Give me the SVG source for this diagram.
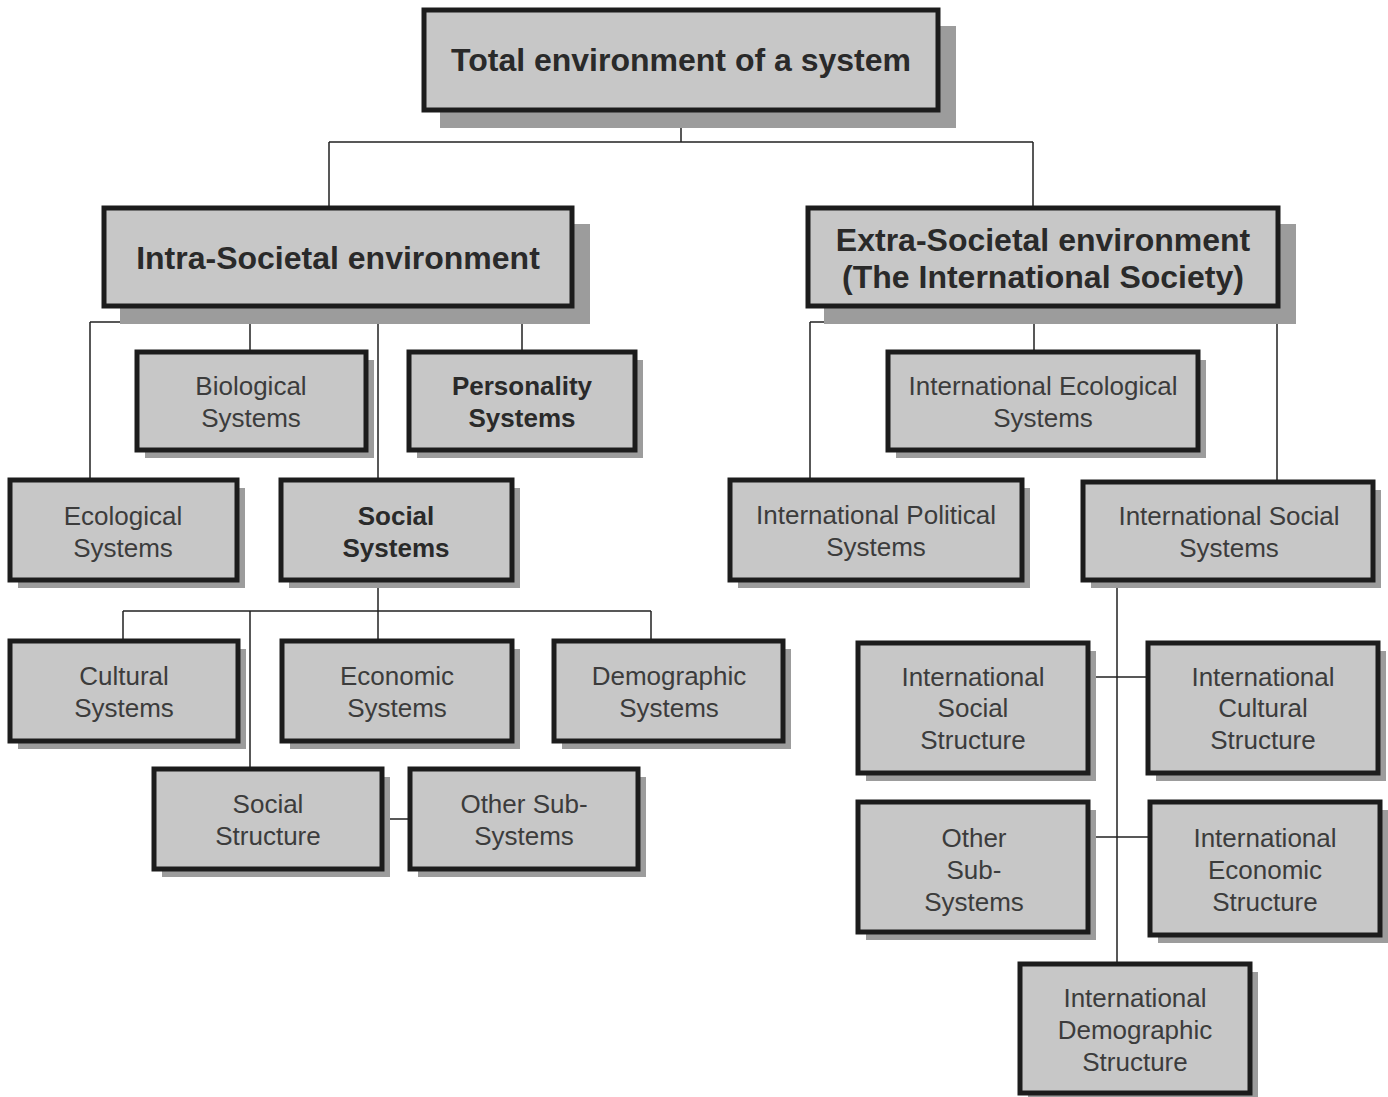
<svg xmlns="http://www.w3.org/2000/svg" width="1388" height="1097" viewBox="0 0 1388 1097">
<style>
.sh{fill:#9c9c9c}
.bx{fill:#c7c7c7;stroke:#1c1c1c;stroke-width:5}
.t{font-family:"Liberation Sans",Arial,sans-serif;font-size:26px;fill:#3c3c3c;text-anchor:middle}
.b{font-weight:bold;fill:#2a2a2a}
.h{font-family:"Liberation Sans",Arial,sans-serif;font-size:32px;font-weight:bold;fill:#2a2a2a;text-anchor:middle}
.c{fill:none;stroke:#222;stroke-width:1.5}
</style>
<rect width="1388" height="1097" fill="#ffffff"/>
<g id="connectors">
<path class="c" d="M681 110V142M329 142H1033M329 142V208M1033 142V208"/>
<path class="c" d="M90 322H522M90 322V480M250 322V352M522 322V352M378 306V480"/>
<path class="c" d="M378 580V611M123 611H651M123 611V641M378 611V641M651 611V641M250 611V769M382 819H410"/>
<path class="c" d="M810 322H1277M810 322V480M1277 322V482M1034 306V352"/>
<path class="c" d="M1117 580V964M1088 677H1148M1088 837H1150"/>
</g>
<g id="n-total"><rect class="sh" x="440" y="26" width="516" height="102"/><rect class="bx" x="424" y="10" width="514" height="100"/><text class="h" x="681" y="71">Total environment of a system</text></g>
<g id="n-intra"><rect class="sh" x="120" y="224" width="470" height="100"/><rect class="bx" x="104" y="208" width="468" height="98"/><text class="h" x="338" y="269">Intra-Societal environment</text></g>
<g id="n-extra"><rect class="sh" x="824" y="224" width="472" height="100"/><rect class="bx" x="808" y="208" width="470" height="98"/><text class="h" x="1043" y="251">Extra-Societal environment</text><text class="h" x="1043" y="288">(The International Society)</text></g>
<g id="n-bio"><rect class="sh" x="145" y="360" width="229" height="98"/><rect class="bx" x="137" y="352" width="229" height="98"/><text class="t" x="251" y="395">Biological</text><text class="t" x="251" y="427">Systems</text></g>
<g id="n-pers"><rect class="sh" x="417" y="360" width="226" height="98"/><rect class="bx" x="409" y="352" width="226" height="98"/><text class="t b" x="522" y="395">Personality</text><text class="t b" x="522" y="427">Systems</text></g>
<g id="n-eco"><rect class="sh" x="18" y="488" width="227" height="100"/><rect class="bx" x="10" y="480" width="227" height="100"/><text class="t" x="123" y="525">Ecological</text><text class="t" x="123" y="557">Systems</text></g>
<g id="n-social"><rect class="sh" x="289" y="488" width="231" height="100"/><rect class="bx" x="281" y="480" width="231" height="100"/><text class="t b" x="396" y="525">Social</text><text class="t b" x="396" y="557">Systems</text></g>
<g id="n-cult"><rect class="sh" x="18" y="649" width="228" height="100"/><rect class="bx" x="10" y="641" width="228" height="100"/><text class="t" x="124" y="685">Cultural</text><text class="t" x="124" y="717">Systems</text></g>
<g id="n-econ"><rect class="sh" x="290" y="649" width="230" height="100"/><rect class="bx" x="282" y="641" width="230" height="100"/><text class="t" x="397" y="685">Economic</text><text class="t" x="397" y="717">Systems</text></g>
<g id="n-demo"><rect class="sh" x="562" y="649" width="229" height="100"/><rect class="bx" x="554" y="641" width="229" height="100"/><text class="t" x="669" y="685">Demographic</text><text class="t" x="669" y="717">Systems</text></g>
<g id="n-sstruct"><rect class="sh" x="162" y="777" width="228" height="100"/><rect class="bx" x="154" y="769" width="228" height="100"/><text class="t" x="268" y="813">Social</text><text class="t" x="268" y="845">Structure</text></g>
<g id="n-other"><rect class="sh" x="418" y="777" width="228" height="100"/><rect class="bx" x="410" y="769" width="228" height="100"/><text class="t" x="524" y="813">Other Sub-</text><text class="t" x="524" y="845">Systems</text></g>
<g id="n-iecol"><rect class="sh" x="896" y="360" width="310" height="98"/><rect class="bx" x="888" y="352" width="310" height="98"/><text class="t" x="1043" y="395">International Ecological</text><text class="t" x="1043" y="427">Systems</text></g>
<g id="n-ipol"><rect class="sh" x="738" y="488" width="292" height="100"/><rect class="bx" x="730" y="480" width="292" height="100"/><text class="t" x="876" y="524">International Political</text><text class="t" x="876" y="556">Systems</text></g>
<g id="n-isoc"><rect class="sh" x="1091" y="490" width="290" height="98"/><rect class="bx" x="1083" y="482" width="290" height="98"/><text class="t" x="1229" y="525">International Social</text><text class="t" x="1229" y="557">Systems</text></g>
<g id="n-isstruct"><rect class="sh" x="866" y="651" width="230" height="130"/><rect class="bx" x="858" y="643" width="230" height="130"/><text class="t" x="973" y="686">International</text><text class="t" x="973" y="717">Social</text><text class="t" x="973" y="749">Structure</text></g>
<g id="n-icult"><rect class="sh" x="1156" y="651" width="230" height="130"/><rect class="bx" x="1148" y="643" width="230" height="130"/><text class="t" x="1263" y="686">International</text><text class="t" x="1263" y="717">Cultural</text><text class="t" x="1263" y="749">Structure</text></g>
<g id="n-iother"><rect class="sh" x="866" y="810" width="230" height="130"/><rect class="bx" x="858" y="802" width="230" height="130"/><text class="t" x="974" y="847">Other</text><text class="t" x="974" y="879">Sub-</text><text class="t" x="974" y="911">Systems</text></g>
<g id="n-iecon"><rect class="sh" x="1158" y="810" width="230" height="133"/><rect class="bx" x="1150" y="802" width="230" height="133"/><text class="t" x="1265" y="847">International</text><text class="t" x="1265" y="879">Economic</text><text class="t" x="1265" y="911">Structure</text></g>
<g id="n-idemo"><rect class="sh" x="1028" y="972" width="230" height="125"/><rect class="bx" x="1020" y="964" width="230" height="129"/><text class="t" x="1135" y="1007">International</text><text class="t" x="1135" y="1039">Demographic</text><text class="t" x="1135" y="1071">Structure</text></g>
</svg>
